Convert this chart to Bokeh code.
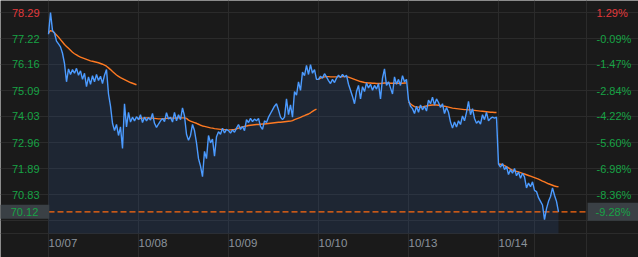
import numpy as np
from bokeh.plotting import figure
from bokeh.models import Range1d, FixedTicker, LinearAxis, CustomJSTickFormatter, Label, Grid
from bokeh.embed import file_html
from bokeh.resources import INLINE

# ---------------- data ----------------
days = ["10/07", "10/08", "10/09", "10/10", "10/13", "10/14"]
prev_close = 77.29
last_price = 70.12
price_ticks = [78.29, 77.22, 76.16, 75.09, 74.03, 72.96, 71.89, 70.83]
pct_labels = ["1.29%", "-0.09%", "-1.47%", "-2.84%", "-4.22%", "-5.60%", "-6.98%", "-8.36%"]
extra_grid = [69.76]
last_pct = "-9.28%"

price_d1 = [77.40, 78.29, 77.55, 77.45, 77.12, 77.00, 76.88, 76.62, 76.20, 75.45,
            75.98, 75.75, 75.95, 75.80, 76.00, 75.72, 75.90, 75.55, 75.80, 75.25,
            75.65, 75.35, 75.70, 75.45, 75.75, 75.50, 75.68, 75.38, 75.72, 75.95,
            74.95, 74.45, 73.75, 73.45, 73.70, 73.25, 73.60, 72.72, 74.55, 73.60,
            74.20, 73.80, 74.00, 73.85, 74.02]
price_d2 = [73.90, 74.10, 73.78, 74.00, 73.85, 73.98, 73.88, 74.15, 73.75, 73.58,
            73.72, 73.85, 73.95, 73.82, 74.18, 73.92, 74.00, 73.80, 74.20, 73.85,
            74.10, 73.90, 74.38, 74.05, 73.30, 73.05, 73.25, 73.70, 73.45, 72.95,
            72.30, 72.00, 71.56, 72.60, 72.30, 73.25, 72.95, 73.10, 72.40, 73.20,
            73.40, 73.30, 73.55, 73.35, 73.50]
price_d3 = [73.45, 73.35, 73.48, 73.38, 73.55, 73.70, 73.50, 73.62, 73.45, 73.90,
            73.78, 73.95, 73.82, 73.92, 73.85, 73.95, 73.62, 73.50, 73.85, 73.78,
            74.00, 74.15, 74.30, 74.45, 74.55, 74.30, 74.00, 73.90, 74.00, 74.75,
            74.10, 74.50, 74.00, 75.05, 74.90, 75.45, 75.10, 75.85, 75.70, 76.12,
            75.75, 76.15, 75.80, 75.95, 75.55]
price_d4 = [75.55, 75.68, 75.60, 75.78, 75.65, 75.50, 75.38, 75.55, 75.42, 75.60,
            75.72, 75.62, 75.75, 75.65, 75.72, 75.35, 75.10, 74.85, 74.55, 75.05,
            75.30, 74.75, 75.25, 75.05, 75.40, 75.20, 75.35, 75.10, 75.30, 75.15,
            75.38, 74.75, 75.60, 75.98, 75.30, 75.45, 75.20, 74.95, 75.65, 75.35,
            75.55, 75.30, 75.70, 75.45, 75.55]
price_d5 = [74.70, 74.45, 74.35, 74.15, 74.45, 74.20, 74.50, 74.30, 74.45, 74.25,
            74.70, 74.55, 74.82, 74.50, 74.75, 74.60, 74.40, 74.55, 74.15, 74.40,
            74.20, 73.80, 73.55, 73.80, 73.60, 73.85, 73.70, 74.05, 73.85, 74.20,
            74.65, 74.10, 74.35, 73.95, 73.75, 73.85, 73.72, 74.10, 73.90, 74.20,
            73.85, 73.95, 74.00, 73.96, 74.00]
price_d6 = [72.08, 71.95, 72.10, 71.85, 71.98, 71.65, 71.85, 71.70, 71.90, 71.60,
            71.75, 71.50, 71.70, 71.55, 71.10, 71.30, 71.15, 71.35, 71.00, 70.95,
            70.70, 70.55, 70.40, 69.80, 70.25, 70.55, 70.75, 71.10, 70.80, 70.55,
            70.12]

avg_d1 = [77.45, 77.55, 77.52, 77.45, 77.37, 77.28, 77.18, 77.08, 76.98, 76.90,
          76.82, 76.74, 76.66, 76.60, 76.55, 76.50, 76.46, 76.43, 76.40, 76.37,
          76.34, 76.31, 76.29, 76.27, 76.25, 76.23, 76.20, 76.17, 76.13, 76.09,
          76.02, 75.95, 75.87, 75.80, 75.73, 75.67, 75.62, 75.58, 75.54, 75.50,
          75.46, 75.42, 75.39, 75.36, 75.33]
avg_d2 = [73.92, 73.95, 73.96, 73.97, 73.97, 73.97, 73.96, 73.96, 73.95, 73.94,
          73.93, 73.93, 73.93, 73.94, 73.95, 73.95, 73.96, 73.96, 73.96, 73.97,
          73.97, 73.97, 73.97, 73.97, 73.95, 73.88, 73.84, 73.81, 73.78, 73.75,
          73.71, 73.67, 73.64, 73.62, 73.60, 73.58, 73.56, 73.55, 73.53, 73.52,
          73.51, 73.50, 73.50, 73.49, 73.49]
avg_d3 = [73.48, 73.48, 73.49, 73.50, 73.52, 73.55, 73.58, 73.60, 73.62, 73.64,
          73.66, 73.67, 73.68, 73.69, 73.70, 73.70, 73.71, 73.72, 73.72, 73.73,
          73.74, 73.75, 73.76, 73.77, 73.78, 73.79, 73.79, 73.80, 73.81, 73.82,
          73.83, 73.84, 73.86, 73.90, 73.93, 73.96, 73.99, 74.03, 74.06, 74.10,
          74.13, 74.18, 74.24, 74.29, 74.33]
avg_d4 = [75.55, 75.60, 75.63, 75.65, 75.66, 75.66, 75.65, 75.65, 75.65, 75.65,
          75.66, 75.66, 75.66, 75.66, 75.66, 75.64, 75.61, 75.58, 75.55, 75.52,
          75.49, 75.46, 75.44, 75.42, 75.41, 75.40, 75.40, 75.39, 75.39, 75.38,
          75.38, 75.38, 75.39, 75.40, 75.40, 75.40, 75.39, 75.39, 75.39, 75.39,
          75.39, 75.39, 75.39, 75.40, 75.40]
avg_d5 = [74.62, 74.55, 74.48, 74.43, 74.41, 74.41, 74.41, 74.42, 74.44, 74.46,
          74.48, 74.49, 74.50, 74.50, 74.50, 74.49, 74.48, 74.46, 74.45, 74.43,
          74.41, 74.39, 74.37, 74.36, 74.35, 74.34, 74.33, 74.32, 74.31, 74.31,
          74.30, 74.30, 74.29, 74.28, 74.27, 74.26, 74.25, 74.24, 74.23, 74.22,
          74.21, 74.20, 74.20, 74.19, 74.19]
avg_d6 = [72.08, 72.07, 72.05, 72.01, 71.97, 71.92, 71.87, 71.83, 71.80, 71.78,
          71.76, 71.73, 71.70, 71.67, 71.64, 71.61, 71.58, 71.55, 71.52, 71.49,
          71.46, 71.42, 71.38, 71.35, 71.31, 71.27, 71.24, 71.21, 71.18, 71.16,
          71.15]

price_days = [price_d1, price_d2, price_d3, price_d4, price_d5, price_d6]
avg_days = [avg_d1, avg_d2, avg_d3, avg_d4, avg_d5, avg_d6]
SLOTS = 45  # samples per trading day

# ---------------- layout ----------------
X_END = 538 / 90          # right edge of the plotting area (in days)
Y_TOP = 78.782            # top of plotting area (price)
Y_FLOOR = 69.232          # bottom of plotting area (price)
PX_PER_DAY = 90
PX_PER_UNIT = 24.4

BG = "#1a1a1a"
GRID = "#2b2b2b"
RED = "#e3393c"
GREEN = "#17a345"
FONT = "Liberation Sans"

# frame spans the whole canvas; the chart area sits inside it
p = figure(width=638, height=257, output_backend="svg", toolbar_location=None,
           x_range=Range1d(-48 / PX_PER_DAY, 590 / PX_PER_DAY),
           y_range=Range1d(Y_FLOOR - 24 / PX_PER_UNIT, Y_TOP),
           min_border=0, background_fill_color=BG, border_fill_color=BG,
           outline_line_color=None, x_axis_location=None, y_axis_location=None)
p.grid.visible = False

# grid lines limited to the chart area
hgrid = Grid(dimension=1, ticker=FixedTicker(ticks=price_ticks + extra_grid + [Y_FLOOR]),
             bounds=(0, X_END), grid_line_color=GRID)
vgrid = Grid(dimension=0, ticker=FixedTicker(ticks=[0, 1, 2, 3, 4, 5, 5.4, X_END]),
             bounds=(Y_FLOOR, Y_TOP), grid_line_color=GRID)
p.add_layout(hgrid)
p.add_layout(vgrid)

xs_all, ys_all = [], []
orange_xs, orange_ys = [], []
for d, (pr, av) in enumerate(zip(price_days, avg_days)):
    xd = [d + i / SLOTS for i in range(len(pr))]
    xs_all += xd
    ys_all += pr
    orange_xs.append(xd)
    orange_ys.append(av)

p.varea(x=xs_all, y1=Y_FLOOR, y2=ys_all, fill_color="#2a4a80", fill_alpha=0.25)

p.segment(x0=[0], x1=[X_END], y0=[last_price], y1=[last_price], line_color="#ff6a10",
          line_dash="6 3", line_width=1.3)

p.multi_line(xs=orange_xs, ys=orange_ys, line_color="#ff7a22", line_width=1.4)
p.line(xs_all, ys_all, line_color="#4c9bff", line_width=1.4)


def style_axis(ax, color, size="11px"):
    ax.axis_line_color = None
    ax.major_tick_line_color = None
    ax.minor_tick_line_color = None
    ax.major_tick_out = 0
    ax.major_tick_in = 0
    ax.minor_tick_out = 0
    ax.minor_tick_in = 0
    ax.major_label_text_color = color
    ax.major_label_text_font = FONT
    ax.major_label_text_font_size = size


up_idx = [i for i, t in enumerate(price_ticks) if t > prev_close]
dn_idx = [i for i, t in enumerate(price_ticks) if t <= prev_close]

# left price axes (red above previous close, green below)
for idx, col in ((up_idx, RED), (dn_idx, GREEN)):
    tk = [price_ticks[i] for i in idx]
    ax = LinearAxis(ticker=FixedTicker(ticks=tk), fixed_location=0,
                    formatter=CustomJSTickFormatter(code="return tick.toFixed(2);"))
    style_axis(ax, col)
    ax.major_label_standoff = 9
    p.add_layout(ax, "left")

# right percent axes
for idx, col in ((up_idx, RED), (dn_idx, GREEN)):
    tk = [price_ticks[i] for i in idx]
    lb = [pct_labels[i] for i in idx]
    ax = LinearAxis(ticker=FixedTicker(ticks=tk), fixed_location=X_END,
                    formatter=CustomJSTickFormatter(args=dict(tk=tk, labs=lb), code="""
                        const i = tk.findIndex(t => Math.abs(t - tick) < 1e-6);
                        return i < 0 ? '' : labs[i];
                    """))
    style_axis(ax, col)
    ax.major_label_standoff = 10
    p.add_layout(ax, "right")

# bottom date axis, labels start at each day boundary
xa = LinearAxis(ticker=FixedTicker(ticks=[d + 0.16 for d in range(len(days))]),
                fixed_location=Y_FLOOR,
                formatter=CustomJSTickFormatter(args=dict(labs=days), code="""
                    const k = Math.round(tick - 0.16);
                    return (k >= 0 && k < labs.length) ? labs[k] : '';
                """))
style_axis(xa, "#8b939c", "11.5px")
xa.major_label_standoff = 3
p.add_layout(xa, "below")

# last price markers (padding given as (horizontal, vertical))
p.add_layout(Label(x=24, x_units="canvas", y=last_price, text=f"{last_price:.2f}",
                   text_align="center", text_baseline="middle", text_color=GREEN,
                   text_font=FONT, text_font_size="11px",
                   background_fill_color="#3a4045", padding=(11, 3)))
p.add_layout(Label(x=612.5, x_units="canvas", y=last_price, text=last_pct,
                   text_align="center", text_baseline="middle", text_color=GREEN,
                   text_font=FONT, text_font_size="11px",
                   background_fill_color="#3a4045", padding=(8, 3)))

open("out.html", "w").write(file_html(p, INLINE))
